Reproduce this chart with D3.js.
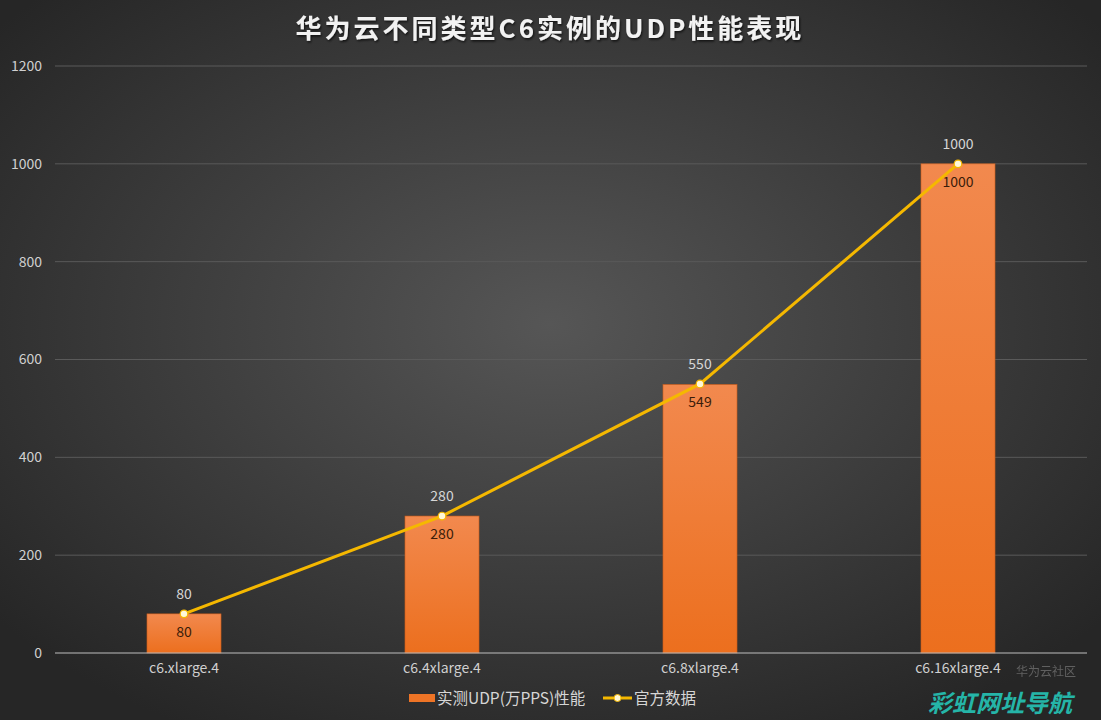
<!DOCTYPE html>
<html><head><meta charset="utf-8">
<script src="https://cdn.jsdelivr.net/npm/d3@7"></script>
<style>html,body{margin:0;padding:0;background:#333;}svg{display:block;}</style>
</head><body>
<svg id="c" width="1101" height="720"></svg>
<script>
const categories = ["c6.xlarge.4","c6.4xlarge.4","c6.8xlarge.4","c6.16xlarge.4"];
const measured = [80, 280, 549, 1000];
const official = [80, 280, 550, 1000];
const yTicks = [0,200,400,600,800,1000,1200];
const title = "华为云不同类型C6实例的UDP性能表现";
const seriesNames = ["实测UDP(万PPS)性能","官方数据"];

const W=1101,H=720;
const svg=d3.select("#c");
const defs=svg.append("defs");
const bg=defs.append("radialGradient").attr("id","bg").attr("cx","50%").attr("cy","45%").attr("r","65%");
bg.append("stop").attr("offset","0%").attr("stop-color","#565656");
bg.append("stop").attr("offset","100%").attr("stop-color","#262626");
const bg2=defs.append("linearGradient").attr("id","bar").attr("x1",0).attr("y1",0).attr("x2",0).attr("y2",1);
bg2.append("stop").attr("offset","0%").attr("stop-color","#f2894e");
bg2.append("stop").attr("offset","100%").attr("stop-color","#ec6f1e");
const f=defs.append("filter").attr("id","sh").attr("x","-5%").attr("y","-20%").attr("width","110%").attr("height","140%");
f.append("feDropShadow").attr("dx",1).attr("dy",1.5).attr("stdDeviation",1.2).attr("flood-color","#000").attr("flood-opacity",0.7);

svg.append("rect").attr("width",W).attr("height",H).attr("fill","url(#bg)");

const x=d3.scaleBand().domain(categories).range([55,1087]).paddingInner(0.713).paddingOuter(0.3565);
const y=d3.scaleLinear().domain([0,1200]).range([653,66]);

const font="'Noto Sans CJK SC','Noto Sans',sans-serif";
// grid
svg.append("g").selectAll("line").data(yTicks.filter(d=>d>0)).join("line")
 .attr("x1",55).attr("x2",1087).attr("y1",d=>y(d)).attr("y2",d=>y(d))
 .attr("stroke","#5a5a5a").attr("stroke-width",1);
// y labels
const ya=svg.append("g").attr("transform","translate(55,0)").call(d3.axisLeft(y).tickValues(yTicks).tickFormat(d3.format("d")).tickSize(0).tickPadding(13));
ya.select(".domain").remove();
ya.selectAll("text").attr("fill","#d0d0d0").attr("font-size",14).attr("font-family",font);
// bars
svg.append("g").selectAll("rect").data(measured).join("rect")
 .attr("x",(d,i)=>x(categories[i])).attr("width",x.bandwidth())
 .attr("y",d=>y(d)).attr("height",d=>y(0)-y(d))
 .attr("fill","url(#bar)").attr("stroke","#c85a18").attr("stroke-width",0.6);
// baseline
svg.append("line").attr("x1",55).attr("x2",1087).attr("y1",y(0)).attr("y2",y(0)).attr("stroke","#bdbdbd").attr("stroke-width",1.2);
// x labels
const xa=svg.append("g").attr("transform",`translate(0,${y(0)})`).call(d3.axisBottom(x).tickSize(0).tickPadding(10));
xa.select(".domain").remove();
xa.selectAll("text").attr("fill","#d0d0d0").attr("font-size",14).attr("font-family",font);
// bar labels
svg.append("g").selectAll("text").data(measured).join("text")
 .attr("x",(d,i)=>x(categories[i])+x.bandwidth()/2).attr("y",d=>y(d)+23)
 .attr("text-anchor","middle").attr("font-size",14).attr("font-family",font).attr("fill","#3a1c0a")
 .text(d=>d);
// line
const cx=(i)=>x(categories[i])+x.bandwidth()/2;
const line=d3.line().x((d,i)=>cx(i)).y(d=>y(d));
svg.append("path").datum(official).attr("d",line).attr("fill","none").attr("stroke","#f5b800").attr("stroke-width",3);
svg.append("g").selectAll("circle").data(official).join("circle")
 .attr("cx",(d,i)=>cx(i)).attr("cy",d=>y(d)).attr("r",3.8)
 .attr("fill","#fff8d8").attr("stroke","#f5b800").attr("stroke-width",1.2);
svg.append("g").selectAll("text").data(official).join("text")
 .attr("x",(d,i)=>cx(i)).attr("y",d=>y(d)-15)
 .attr("text-anchor","middle").attr("font-size",14).attr("font-family",font).attr("fill","#d6d6d6")
 .text(d=>d);
// title
svg.append("text").attr("x",550).attr("y",38).attr("text-anchor","middle")
 .attr("font-size",26).attr("font-weight","bold").attr("font-family",font).attr("fill","#f2f2f2")
 .attr("letter-spacing",3).attr("filter","url(#sh)").text(title);
// legend
const lg=svg.append("g").attr("font-family",font).attr("font-size",15.5).attr("fill","#d6d6d6");
lg.append("rect").attr("x",409).attr("y",694).attr("width",26).attr("height",8).attr("fill","#ee7426");
lg.append("text").attr("x",437).attr("y",704).text(seriesNames[0]);
lg.append("line").attr("x1",603).attr("x2",632).attr("y1",698).attr("y2",698).attr("stroke","#f5b800").attr("stroke-width",3);
lg.append("circle").attr("cx",617.5).attr("cy",698).attr("r",3.5).attr("fill","#fff8d8").attr("stroke","#f5b800");
lg.append("text").attr("x",634).attr("y",704).text(seriesNames[1]);
// watermark
svg.append("text").attr("x",1016).attr("y",676).attr("font-family",font).attr("font-size",12)
 .attr("fill","#9a9a9a").attr("opacity",0.5).text("华为云社区");
svg.append("text").attr("x",928).attr("y",712).attr("font-family",font).attr("font-size",24)
 .attr("font-weight","bold").attr("font-style","italic").attr("fill","#25b5a8")
 .text("彩虹网址导航");
</script>
</body></html>
